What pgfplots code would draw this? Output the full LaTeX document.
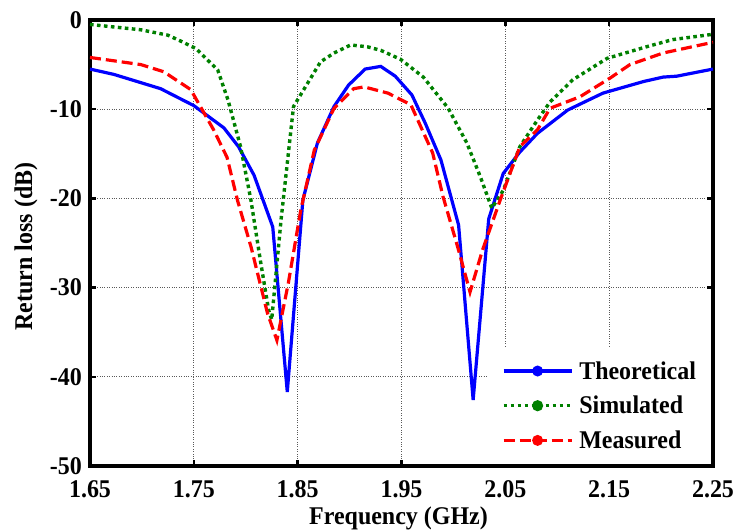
\documentclass[border=0pt]{standalone}
\usepackage{fontspec}
\setmainfont{Liberation Serif}[FakeStretch=0.94]
\usepackage{pgfplots}
\pgfplotsset{compat=1.18}
\definecolor{mblue}{RGB}{0,0,255}
\definecolor{mgreen}{RGB}{0,128,0}
\definecolor{mred}{RGB}{255,0,0}
\newcommand{\bigfont}{\fontsize{25.5}{30}\selectfont\bfseries}
\pgfplotsset{dotlegend/.style={legend image code/.code={\draw[##1] (0pt,0pt) -- (68pt,0pt); \fill[##1,solid] (34pt,0pt) circle (3.8pt);}}}
\begin{document}
\begin{tikzpicture}
\path[use as bounding box] (-90pt,-64pt) rectangle (646pt,466pt);
\begin{axis}[
  at={(0pt,0pt)}, anchor=south west,
  width=623pt, height=446pt, scale only axis,
  xmin=1.65, xmax=2.25, ymin=-50, ymax=0,
  xtick={1.65,1.75,1.85,1.95,2.05,2.15,2.25},
  xticklabels={1.65,1.75,1.85,1.95,2.05,2.15,2.25},
  ytick={-50,-40,-30,-20,-10,0},
  yticklabels={-50,-40,-30,-20,-10,0},
  tick align=inside,
  ticklabel style={font=\bigfont},
  xticklabel style={inner sep=0pt, anchor=north, yshift=-14pt},
  yticklabel style={inner sep=0pt, anchor=east, xshift=-8pt},
  grid=major,
  major grid style={dotted, black!65, line width=0.7pt},
  axis line style={line width=3.4pt, black},
  every tick/.style={black, line width=2.5pt},
  major tick length=6pt,
  xlabel={Frequency (GHz)},
  ylabel={Return loss (dB)},
  label style={font=\bigfont},
  xlabel style={at={(axis description cs:0.5,0)}, anchor=base, yshift=-58pt, xshift=-3pt},
  ylabel style={at={(axis description cs:-0.0931,0.492)}, anchor=base},
  legend style={at={(rel axis cs:1,0)}, anchor=south east, xshift=-1.8pt, yshift=1.8pt,
    fill=white, draw=none,
    font=\bigfont, inner xsep=15pt, inner ysep=14pt, row sep=15.5pt, column sep=6pt,
    nodes={inner sep=0pt}},
  legend cell align=left,
]
\addplot[mblue, line width=3.2pt, solid, dotlegend]
  coordinates {
  (1.650,-5.5) (1.673,-6.1) (1.718,-7.7) (1.750,-9.6) (1.779,-12.1) (1.793,-14.2)
  (1.808,-17.4) (1.826,-23.2) (1.840,-41.7) (1.855,-20.2) (1.869,-13.8) (1.885,-9.7)
  (1.899,-7.3) (1.915,-5.5) (1.930,-5.2) (1.944,-6.3) (1.960,-8.4) (1.973,-11.6)
  (1.988,-15.7) (2.005,-23.0) (2.019,-42.6) (2.034,-22.3) (2.048,-17.2) (2.064,-14.8)
  (2.081,-12.7) (2.110,-10.1) (2.144,-8.2) (2.183,-6.9) (2.202,-6.4) (2.215,-6.3)
  (2.250,-5.5)
  };
\addlegendentry{Theoretical}
\addplot[mgreen, line width=3.4pt, dash pattern=on 3.6pt off 3.4pt, dotlegend]
  coordinates {
  (1.650,-0.5) (1.699,-1.1) (1.725,-1.7) (1.738,-2.4) (1.752,-3.2) (1.773,-5.6)
  (1.783,-9.0) (1.795,-14.2) (1.805,-20.2) (1.814,-26.9) (1.822,-32.5) (1.825,-33.6)
  (1.834,-22.4) (1.846,-9.7) (1.872,-4.7) (1.885,-3.7) (1.901,-2.8) (1.917,-3.0)
  (1.930,-3.4) (1.949,-4.4) (1.971,-6.4) (1.995,-9.9) (2.013,-13.8) (2.026,-17.6)
  (2.037,-21.1) (2.048,-19.1) (2.064,-14.2) (2.081,-11.2) (2.093,-9.2) (2.115,-6.7)
  (2.148,-4.3) (2.186,-3.0) (2.211,-2.2) (2.250,-1.6)
  };
\addlegendentry{Simulated}
\addplot[mred, line width=3.2pt, dash pattern=on 11pt off 5pt, dotlegend]
  coordinates {
  (1.650,-4.2) (1.699,-5.0) (1.721,-5.8) (1.747,-7.8) (1.769,-12.3) (1.782,-15.4)
  (1.792,-20.2) (1.805,-25.4) (1.821,-32.9) (1.830,-35.9) (1.841,-29.5) (1.853,-21.3)
  (1.866,-14.6) (1.885,-9.9) (1.904,-7.7) (1.914,-7.5) (1.937,-8.2) (1.959,-9.5)
  (1.980,-14.9) (1.990,-19.8) (2.004,-25.4) (2.016,-30.5) (2.028,-25.8) (2.045,-20.2)
  (2.064,-14.2) (2.081,-12.3) (2.093,-9.9) (2.122,-8.6) (2.151,-6.5) (2.170,-5.0)
  (2.202,-3.7) (2.250,-2.5)
  };
\addlegendentry{Measured}
\end{axis}
\end{tikzpicture}
\end{document}
